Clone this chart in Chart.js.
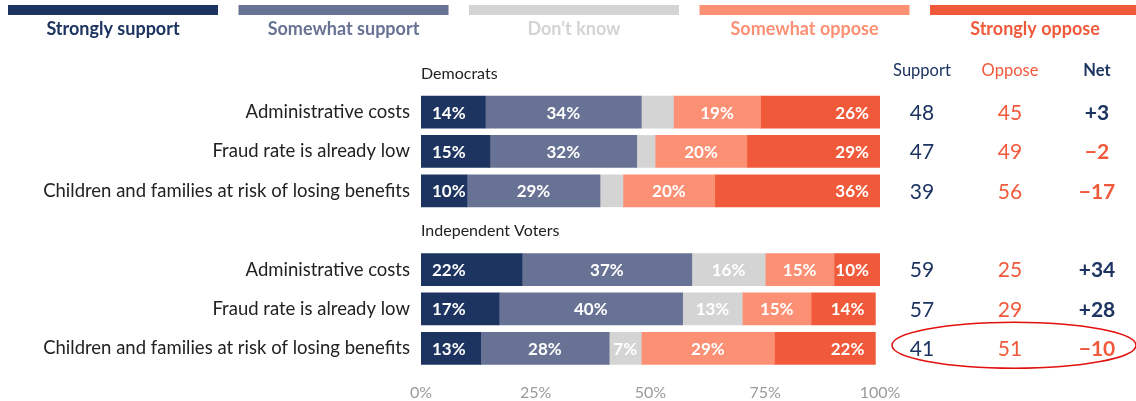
<!DOCTYPE html>
<html>
<head>
<meta charset="utf-8">
<script src="https://cdn.jsdelivr.net/npm/chart.js@4.4.1/dist/chart.umd.min.js"></script>
<style>
  html, body { margin: 0; padding: 0; background: #fff; }
  #wrap { width: 1136px; height: 401px; position: relative; }
</style>
</head>
<body>
<div id="wrap"><canvas id="chart"></canvas></div>
<script>
// Survey groups and the statements asked in each
const groups = ['Democrats', 'Independent Voters'];
const items = [
  'Administrative costs',
  'Fraud rate is already low',
  'Children and families at risk of losing benefits'
];

// Answer shares per row (Democrats rows first, then Independent Voters)
const stronglySupport = [14, 15, 10, 22, 17, 13];
const somewhatSupport = [34, 32, 29, 37, 40, 28];
const dontKnow        = [7, 4, 5, 16, 13, 7];
const somewhatOppose  = [19, 20, 20, 15, 15, 29];
const stronglyOppose  = [26, 29, 36, 10, 14, 22];
// the Democrats' "Don't know" slices carry no printed value
const dontKnowShown   = [false, false, false, true, true, true];

// Summary columns
const supportTotal = [48, 47, 39, 59, 57, 41];
const opposeTotal  = [45, 49, 56, 25, 29, 51];
const netScore     = [3, -2, -17, 34, 28, -10];

const xTicks = [0, 25, 50, 75, 100];
const answerNames = ['Strongly support', 'Somewhat support', "Don't know", 'Somewhat oppose', 'Strongly oppose'];

const NAVY = '#1d3461';
const SLATE = '#687294';
const GREY = '#d4d4d4';
const SALMON = '#fc9074';
const RED = '#f05a3b';
const FONT = 'Lato, "Open Sans", sans-serif';

// Row layout: a header row for each group followed by its items
const rowLabels = [];
const headerRows = [];
const rowIndex = []; // category position -> data index (or -1 for headers)
groups.forEach((g, gi) => {
  headerRows.push(rowLabels.length);
  rowLabels.push(g);
  rowIndex.push(-1);
  items.forEach((it, ii) => {
    rowLabels.push(it);
    rowIndex.push(gi * items.length + ii);
  });
});
const spread = arr => rowIndex.map(i => (i < 0 ? null : arr[i]));

const seriesValues = [stronglySupport, somewhatSupport, dontKnow, somewhatOppose, stronglyOppose];
const seriesColors = [NAVY, SLATE, GREY, SALMON, RED];

// White percentage labels inside the segments
const segmentLabels = {
  id: 'segmentLabels',
  afterDatasetsDraw(chart) {
    const ctx = chart.ctx;
    ctx.save();
    ctx.font = 'bold 17px ' + FONT;
    ctx.fillStyle = '#fff';
    ctx.textBaseline = 'middle';
    chart.data.datasets.forEach((ds, di) => {
      chart.getDatasetMeta(di).data.forEach((bar, i) => {
        const v = ds.data[i];
        if (v == null) return;
        if (di === 2 && !dontKnowShown[rowIndex[i]]) return;
        const text = v + '%';
        if (di === 0) {
          ctx.textAlign = 'left';
          ctx.fillText(text, bar.base + 11, bar.y + 1);
        } else if (di === 4) {
          ctx.textAlign = 'right';
          ctx.fillText(text, bar.x - 11, bar.y + 1);
        } else {
          ctx.textAlign = 'center';
          ctx.fillText(text, (bar.base + bar.x) / 2, bar.y + 1);
        }
      });
    });
    ctx.restore();
  }
};

// Group headers, legend strip, summary columns and the highlight ring
const extras = {
  id: 'extras',
  afterDraw(chart) {
    const ctx = chart.ctx;
    const yScale = chart.scales.y;
    const area = chart.chartArea;
    ctx.save();

    // group headers sit above their rows, left-aligned to the bars
    ctx.font = '16px ' + FONT;
    ctx.fillStyle = '#222';
    ctx.textAlign = 'left';
    ctx.textBaseline = 'middle';
    headerRows.forEach(r => {
      ctx.fillText(rowLabels[r], area.left, yScale.getPixelForValue(r) + 1);
    });

    // legend: a coloured strip with the answer name underneath
    const pitch = 230.5, w = 210;
    answerNames.forEach((name, i) => {
      const x = 8 + i * pitch;
      ctx.fillStyle = seriesColors[i];
      ctx.fillRect(x, 5, w, 10);
      ctx.font = 'bold 18px ' + FONT;
      ctx.textAlign = 'center';
      ctx.fillText(name, x + w / 2, 29);
    });

    // Support / Oppose / Net columns
    const cols = [922, 1010, 1097];
    const headY = yScale.getPixelForValue(headerRows[0]) - 2;
    ctx.font = '16.5px ' + FONT;
    ctx.textAlign = 'center';
    ctx.fillStyle = NAVY;
    ctx.fillText('Support', cols[0], headY);
    ctx.fillStyle = RED;
    ctx.fillText('Oppose', cols[1], headY);
    ctx.font = 'bold 16.5px ' + FONT;
    ctx.fillStyle = NAVY;
    ctx.fillText('Net', cols[2], headY);

    rowIndex.forEach((di, r) => {
      if (di < 0) return;
      const y = yScale.getPixelForValue(r) + 1;
      ctx.font = '21px ' + FONT;
      ctx.fillStyle = NAVY;
      ctx.fillText(String(supportTotal[di]), cols[0], y);
      ctx.fillStyle = RED;
      ctx.fillText(String(opposeTotal[di]), cols[1], y);
      const n = netScore[di];
      ctx.font = 'bold 21px ' + FONT;
      ctx.fillStyle = n >= 0 ? NAVY : RED;
      ctx.fillText((n >= 0 ? '+' : '\u2212') + Math.abs(n), cols[2], y);
    });

    // ring around the last row's summary
    const lastY = yScale.getPixelForValue(rowLabels.length - 1) - 3;
    ctx.strokeStyle = '#e2100f';
    ctx.lineWidth = 1.5;
    ctx.beginPath();
    ctx.ellipse(1014, lastY, 122, 23, 0, 0, Math.PI * 2);
    ctx.stroke();

    ctx.restore();
  }
};

new Chart(document.getElementById('chart'), {
  type: 'bar',
  data: {
    labels: rowLabels,
    datasets: answerNames.map((name, i) => ({
      label: name,
      data: spread(seriesValues[i]),
      backgroundColor: seriesColors[i],
      borderWidth: 0,
      barThickness: 32
    }))
  },
  options: {
    indexAxis: 'y',
    responsive: true,
    maintainAspectRatio: false,
    animation: false,
    layout: { padding: { top: 53, right: 256, left: 0, bottom: 0 } },
    plugins: {
      legend: { display: false },
      tooltip: { enabled: false }
    },
    scales: {
      x: {
        stacked: true,
        min: 0,
        max: 100,
        afterBuildTicks: scale => { scale.ticks = xTicks.map(v => ({ value: v })); },
        afterFit: scale => { scale.height = 33; },
        grid: { display: false, drawTicks: false },
        border: { display: false },
        ticks: {
          padding: 15,
          color: '#9a9a9a',
          font: { family: FONT, size: 16 },
          callback: v => v + '%'
        }
      },
      y: {
        stacked: true,
        afterFit: scale => { scale.width = 421; },
        grid: { display: false, drawTicks: false },
        border: { display: false },
        ticks: {
          padding: 11,
          color: '#222',
          font: { family: FONT, size: 18.5 },
          callback: (v, i) => (headerRows.includes(i) ? '' : rowLabels[i])
        }
      }
    }
  },
  plugins: [segmentLabels, extras]
});
</script>
</body>
</html>
